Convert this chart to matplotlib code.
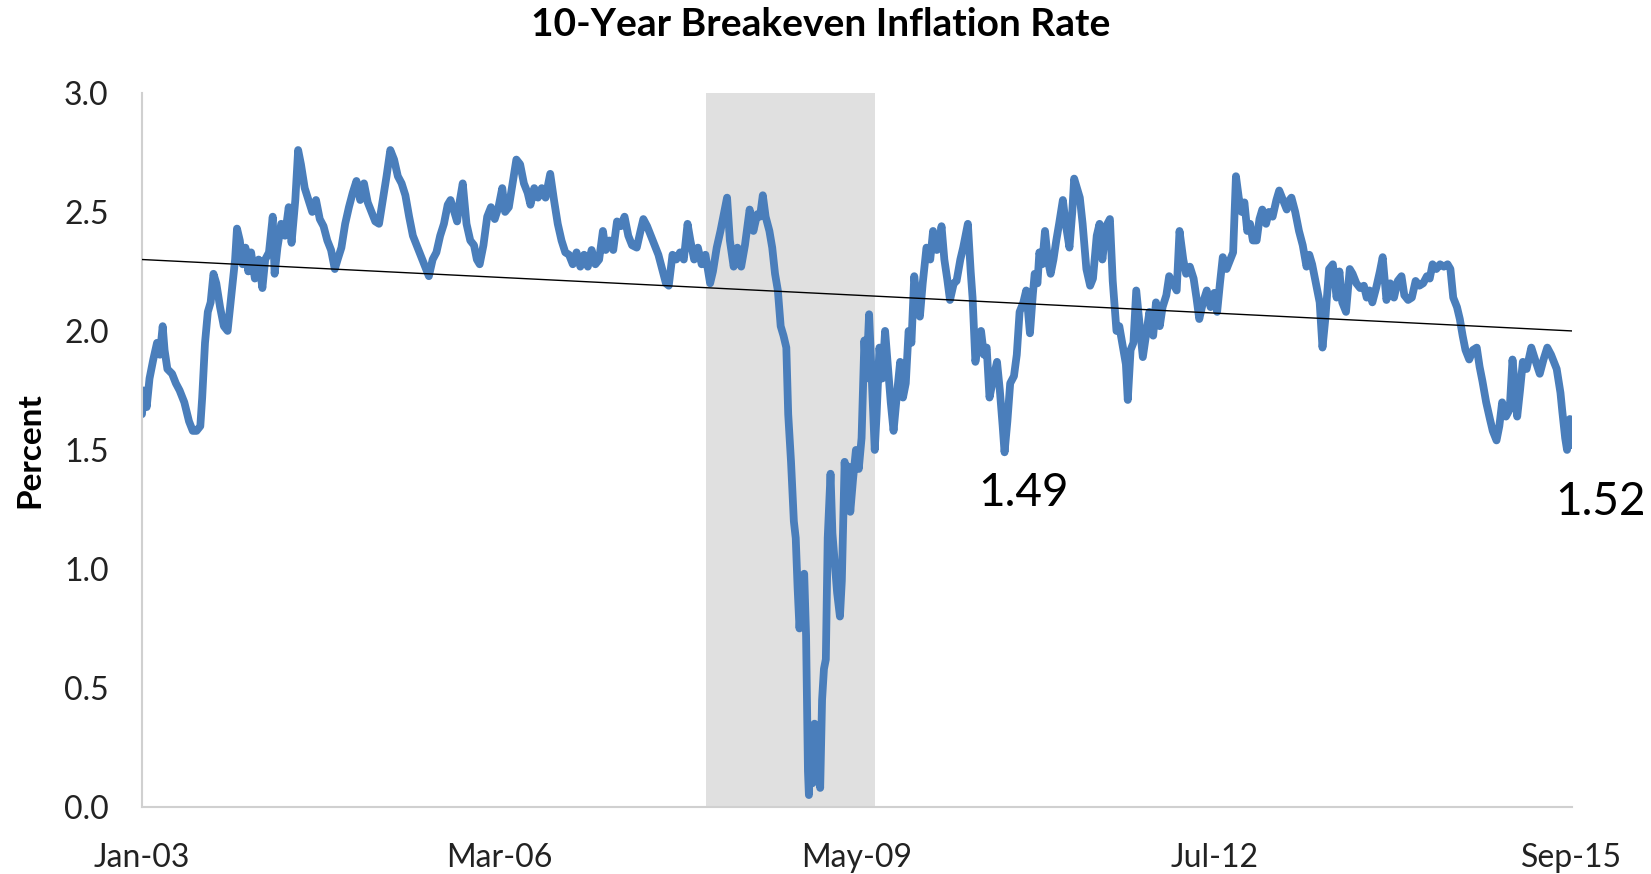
"""10-Year Breakeven Inflation Rate, redrawn with matplotlib."""

# %% imports
import matplotlib
matplotlib.use("Agg")
import matplotlib.pyplot as plt
import numpy as np

# %% data (x = months since Jan 2003)
months = [
    0.0, 0.2, 0.5, 0.8, 1.2, 1.6, 1.9, 2.2, 2.4, 2.7, 3.2, 3.6, 4.0, 4.5, 5.0, 5.4, 5.8, 6.2, 6.4, 6.7,
    7.0, 7.3, 7.6, 7.9, 8.3, 8.7, 9.1, 9.5, 9.9, 10.1, 10.4, 10.7, 11.0, 11.3, 11.6, 12.0, 12.4, 12.8, 13.1, 13.5,
    13.9, 14.1, 14.4, 14.8, 15.2, 15.6, 15.9, 16.3, 16.6, 16.9, 17.3, 17.7, 18.1, 18.5, 18.9, 19.3, 19.7, 20.1, 20.5, 20.8,
    21.2, 21.6, 22.0, 22.4, 22.8, 23.2, 23.6, 24.0, 24.4, 24.8, 25.2, 25.6, 26.0, 26.4, 26.8, 27.2, 27.6, 28.0, 28.4, 28.8,
    29.2, 29.6, 30.0, 30.5, 30.9, 31.3, 31.7, 32.1, 32.5, 32.8, 33.2, 33.5, 33.8, 34.1, 34.5, 34.9, 35.3, 35.6, 35.9, 36.3,
    36.7, 37.1, 37.5, 37.9, 38.3, 38.6, 39.0, 39.4, 39.8, 40.2, 40.6, 41.0, 41.3, 41.7, 42.1, 42.5, 42.9, 43.4, 43.8, 44.2,
    44.6, 45.0, 45.4, 45.8, 46.2, 46.6, 47.0, 47.4, 47.8, 48.2, 48.6, 49.0, 49.3, 49.7, 50.1, 50.5, 50.9, 51.3, 51.7, 52.1,
    52.6, 53.0, 53.3, 53.7, 54.1, 54.5, 54.9, 55.3, 55.7, 56.0, 56.4, 56.8, 57.2, 57.6, 58.0, 58.3, 58.7, 59.1, 59.5, 59.9,
    60.4, 60.7, 61.1, 61.5, 61.9, 62.2, 62.5, 62.9, 63.3, 63.7, 64.1, 64.6, 65.0, 65.4, 65.7, 66.0, 66.3, 66.7, 67.0, 67.3,
    67.6, 67.9, 68.2, 68.5, 68.7, 69.0, 69.3, 69.5, 69.7, 69.9, 70.1, 70.4, 70.6, 70.8, 70.9, 71.1, 71.3, 71.5, 71.7, 71.9,
    72.1, 72.3, 72.5, 72.7, 72.9, 73.2, 73.4, 73.6, 73.9, 74.2, 74.4, 74.7, 74.9, 75.1, 75.3, 75.6, 75.9, 76.2, 76.5, 76.8,
    77.0, 77.3, 77.6, 77.9, 78.1, 78.4, 78.7, 79.0, 79.3, 79.6, 79.9, 80.3, 80.6, 80.9, 81.2, 81.5, 81.8, 82.1, 82.4, 82.7,
    83.0, 83.4, 83.8, 84.1, 84.5, 84.8, 85.0, 85.3, 85.6, 85.9, 86.3, 86.6, 87.0, 87.3, 87.8, 88.1, 88.3, 88.6, 88.9, 89.2,
    89.5, 89.8, 90.1, 90.5, 90.9, 91.2, 91.5, 91.7, 92.0, 92.3, 92.7, 93.0, 93.3, 93.7, 94.0, 94.4, 94.7, 94.9, 95.2, 95.4,
    95.7, 96.0, 96.3, 96.6, 96.9, 97.2, 97.5, 97.9, 98.2, 98.6, 98.9, 99.1, 99.4, 99.7, 100.0, 100.4, 100.8, 101.1, 101.5, 101.8,
    102.1, 102.5, 102.9, 103.2, 103.6, 103.9, 104.3, 104.6, 104.8, 105.1, 105.4, 105.7, 106.0, 106.4, 106.8, 107.1, 107.5, 107.8, 108.2, 108.5,
    108.9, 109.2, 109.6, 110.0, 110.3, 110.7, 111.0, 111.4, 111.8, 112.1, 112.4, 112.8, 113.2, 113.6, 114.0, 114.3, 114.6, 114.9, 115.3, 115.7,
    116.0, 116.3, 116.6, 116.9, 117.2, 117.5, 117.8, 118.1, 118.5, 118.8, 119.1, 119.5, 119.8, 120.2, 120.6, 120.9, 121.3, 121.7, 122.0, 122.2,
    122.6, 123.0, 123.4, 123.8, 124.1, 124.4, 124.8, 125.2, 125.5, 125.8, 126.2, 126.6, 127.0, 127.3, 127.6, 128.0, 128.4, 128.7, 129.1, 129.5,
    129.9, 130.2, 130.5, 130.8, 131.2, 131.6, 131.9, 132.3, 132.7, 133.1, 133.5, 133.9, 134.2, 134.6, 135.0, 135.4, 135.8, 136.2, 136.6, 136.9,
    137.2, 137.6, 138.0, 138.4, 138.8, 139.1, 139.4, 139.8, 140.1, 140.4, 140.7, 141.1, 141.5, 141.9, 142.2, 142.5, 142.9, 143.3, 143.6, 144.0,
    144.3, 144.6, 145.0, 145.4, 145.7, 146.0, 146.2, 146.5, 146.8, 147.2, 147.7, 148.1, 148.6, 149.0, 149.4, 149.8, 150.4, 150.8, 151.0, 151.3,
    151.5, 151.8, 152.0,
]
breakeven = [
    1.65, 1.75, 1.68, 1.80, 1.88, 1.95, 1.90, 2.02, 1.92, 1.84, 1.82, 1.78, 1.75, 1.70, 1.62, 1.58, 1.58, 1.60, 1.72, 1.95,
    2.08, 2.12, 2.24, 2.20, 2.10, 2.02, 2.00, 2.15, 2.30, 2.43, 2.38, 2.28, 2.35, 2.25, 2.33, 2.22, 2.30, 2.18, 2.30, 2.33,
    2.48, 2.24, 2.35, 2.45, 2.40, 2.52, 2.37, 2.55, 2.76, 2.70, 2.60, 2.55, 2.50, 2.55, 2.47, 2.44, 2.38, 2.34, 2.26, 2.30,
    2.35, 2.45, 2.52, 2.58, 2.63, 2.55, 2.62, 2.54, 2.50, 2.46, 2.45, 2.55, 2.65, 2.76, 2.72, 2.65, 2.62, 2.57, 2.48, 2.40,
    2.36, 2.32, 2.28, 2.23, 2.30, 2.33, 2.40, 2.45, 2.53, 2.55, 2.50, 2.46, 2.55, 2.62, 2.45, 2.38, 2.36, 2.30, 2.28, 2.36,
    2.48, 2.52, 2.47, 2.52, 2.60, 2.50, 2.52, 2.62, 2.72, 2.70, 2.62, 2.58, 2.53, 2.60, 2.56, 2.60, 2.56, 2.66, 2.55, 2.45,
    2.38, 2.33, 2.32, 2.28, 2.33, 2.27, 2.32, 2.27, 2.34, 2.28, 2.30, 2.42, 2.34, 2.38, 2.34, 2.46, 2.44, 2.48, 2.40, 2.36,
    2.35, 2.42, 2.47, 2.44, 2.40, 2.36, 2.32, 2.26, 2.20, 2.19, 2.32, 2.30, 2.33, 2.30, 2.45, 2.38, 2.30, 2.35, 2.28, 2.32,
    2.20, 2.25, 2.35, 2.42, 2.50, 2.56, 2.38, 2.27, 2.35, 2.27, 2.36, 2.51, 2.42, 2.49, 2.48, 2.57, 2.48, 2.42, 2.35, 2.24,
    2.17, 2.02, 1.98, 1.93, 1.65, 1.45, 1.20, 1.13, 0.92, 0.75, 0.88, 0.98, 0.72, 0.15, 0.05, 0.30, 0.10, 0.35, 0.12, 0.28,
    0.08, 0.45, 0.58, 0.62, 1.13, 1.40, 1.15, 1.05, 0.90, 0.80, 0.95, 1.45, 1.28, 1.43, 1.24, 1.38, 1.50, 1.42, 1.55, 1.96,
    1.80, 2.07, 1.78, 1.50, 1.65, 1.93, 1.80, 2.00, 1.85, 1.70, 1.58, 1.75, 1.87, 1.72, 1.78, 2.00, 1.95, 2.23, 2.12, 2.06,
    2.20, 2.35, 2.30, 2.42, 2.34, 2.38, 2.44, 2.30, 2.22, 2.13, 2.20, 2.21, 2.30, 2.35, 2.45, 2.25, 2.14, 1.87, 1.95, 2.00,
    1.90, 1.93, 1.72, 1.80, 1.87, 1.75, 1.60, 1.49, 1.62, 1.78, 1.81, 1.90, 2.08, 2.12, 2.17, 1.99, 2.15, 2.24, 2.20, 2.33,
    2.28, 2.42, 2.30, 2.24, 2.30, 2.38, 2.45, 2.55, 2.45, 2.35, 2.50, 2.64, 2.60, 2.56, 2.45, 2.26, 2.19, 2.22, 2.40, 2.45,
    2.30, 2.44, 2.47, 2.21, 2.00, 2.02, 1.93, 1.86, 1.71, 1.92, 1.95, 2.17, 2.05, 1.89, 2.00, 2.08, 1.98, 2.12, 2.02, 2.10,
    2.15, 2.23, 2.20, 2.17, 2.42, 2.30, 2.24, 2.27, 2.22, 2.14, 2.05, 2.12, 2.17, 2.10, 2.16, 2.08, 2.20, 2.31, 2.26, 2.30,
    2.33, 2.65, 2.56, 2.50, 2.54, 2.42, 2.45, 2.38, 2.38, 2.47, 2.51, 2.45, 2.50, 2.48, 2.55, 2.59, 2.55, 2.51, 2.55, 2.56,
    2.50, 2.42, 2.36, 2.27, 2.32, 2.28, 2.20, 2.12, 1.93, 2.05, 2.26, 2.28, 2.14, 2.25, 2.12, 2.08, 2.26, 2.24, 2.20, 2.18,
    2.19, 2.14, 2.17, 2.12, 2.18, 2.25, 2.31, 2.13, 2.20, 2.14, 2.21, 2.23, 2.15, 2.13, 2.14, 2.21, 2.19, 2.20, 2.23, 2.22,
    2.28, 2.26, 2.28, 2.27, 2.28, 2.26, 2.14, 2.10, 2.05, 1.98, 1.92, 1.88, 1.92, 1.93, 1.85, 1.79, 1.70, 1.63, 1.58, 1.54,
    1.60, 1.70, 1.64, 1.67, 1.88, 1.75, 1.64, 1.75, 1.87, 1.84, 1.93, 1.88, 1.82, 1.88, 1.93, 1.90, 1.84, 1.74, 1.66, 1.55,
    1.50, 1.63, 1.52,
]

tick_months = [0, 38, 76, 114, 152]
tick_labels = ["Jan-03", "Mar-06", "May-09", "Jul-12", "Sep-15"]
recession = [60.0, 77.9]          # Dec-07 .. Jun-09 shading
trend_ends = [2.30, 2.00]         # linear trend at first / last month
notes = [(93.7, 1.32, "1.49"), (155.0, 1.28, "1.52")]

# %% style
plt.rcParams["font.family"] = ["Lato", "DejaVu Sans"]
line_color = "#4a7ebb"

# %% draw
fig = plt.figure(figsize=(16.51, 8.74), dpi=100)
ax = fig.add_axes([0.086, 0.0767, 0.866, 0.817])

ax.axvspan(recession[0], recession[1], color="#e0e0e0", lw=0, zorder=0)
ax.plot(months, breakeven, color=line_color, lw=5.6, solid_joinstyle="round",
        solid_capstyle="round", zorder=2)
ax.plot([months[0], months[-1]], trend_ends, color="black", lw=1.0, zorder=3)

for x, y, s in notes:
    ax.text(x, y, s, fontsize=33, ha="center", va="center", clip_on=False)

ax.set_xlim(0, 152)
ax.set_ylim(0, 3.0)
ax.set_yticks(np.arange(0, 3.01, 0.5))
ax.set_yticklabels([f"{v:.1f}" for v in np.arange(0, 3.01, 0.5)])
ax.set_xticks(tick_months)
ax.set_xticklabels(tick_labels)
ax.tick_params(axis="both", length=0, labelsize=23, colors="#222222")
ax.tick_params(axis="y", pad=24)
ax.tick_params(axis="x", pad=26)

for side in ("top", "right"):
    ax.spines[side].set_visible(False)
for side in ("left", "bottom"):
    ax.spines[side].set_color("#d0d0d0")
    ax.spines[side].set_linewidth(1.5)

ax.set_ylabel("Percent", fontsize=24, fontweight="bold")
ax.yaxis.set_label_coords(-0.068, 0.5)
fig.text(0.497, 0.972, "10-Year Breakeven Inflation Rate", fontsize=28,
         fontweight="bold", ha="center", va="center")

fig.savefig("out.png", dpi=100)
